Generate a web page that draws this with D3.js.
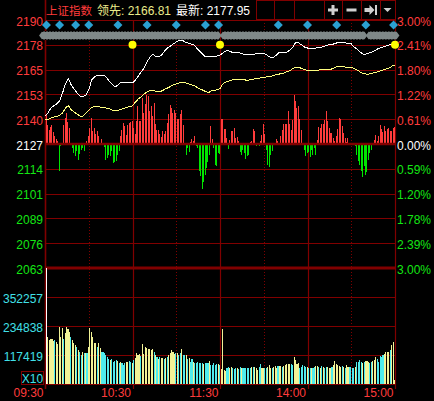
<!DOCTYPE html>
<html><head><meta charset="utf-8">
<script src="https://cdn.jsdelivr.net/npm/d3@7"></script>
<style>html,body{margin:0;padding:0;background:#000;overflow:hidden}svg{display:block}</style>
</head><body><svg id="c" width="434" height="401"></svg>
<script>
// ---------------- data ----------------
const indexName = "上证指数";
const leadLabel = "领先", leadValue = "2166.81";
const lastLabel = "最新", lastValue = "2177.95";
const buttonLabels = ["加","区","信息","+","−","⇥","▾"];
const prevClose = 2126.8;
const priceLabels = ["2190","2178","2165","2153","2140","2127","2114","2101","2089","2076","2063"];
const pctLabels = ["3.00%","2.41%","1.80%","1.22%","0.61%","0.00%","0.59%","1.20%","1.78%","2.39%","3.00%"];
const volTickValues = [352.257, 234.838, 117.419];           // thousands
const volLabels = ["352257","234838","117419"];
const volUnitLabel = "X10";
const timeTicks = [0, 60, 120, 180, 240];                   // minutes from 09:30
const timeLabels = ["09:30","10:30","11:30","14:00","15:00"];
const halfHourTicks = [30, 90, 150, 210];
const infoMarks = [1,10,21,30,50,70,90,110,119,160,180,200,220,239];
const eventDots = [60,120,240];
const bandSegments = [[-2,119],[122,219],[222,241]];

// index (white) every 2 minutes
const indexLine = [
2141.2,2142.8,2145.3,2146.4,2147.4,2148.9,2153.0,2157.7,2160.3,2157.2,
2155.1,2153.0,2151.5,2151.0,2152.0,2154.6,2159.7,2161.3,2162.3,2162.3,
2162.3,2161.3,2159.2,2157.7,2156.1,2157.2,2158.7,2158.7,2158.2,2158.2,
2158.2,2159.7,2161.8,2163.9,2165.9,2169.0,2171.6,2173.1,2171.6,2171.6,
2172.6,2174.7,2176.2,2177.2,2178.3,2179.3,2180.3,2180.3,2179.3,2178.8,
2178.3,2177.8,2176.2,2174.7,2173.1,2171.6,2171.6,2171.6,2171.6,2172.1,
2172.6,2173.6,2174.7,2174.7,2174.1,2174.1,2174.1,2173.6,2173.1,2172.6,
2172.6,2172.6,2173.1,2173.6,2173.6,2173.6,2172.6,2171.6,2171.1,2172.1,
2173.6,2174.1,2173.6,2174.1,2175.2,2176.7,2179.3,2178.8,2177.8,2176.7,
2176.2,2175.7,2175.7,2176.2,2176.7,2176.7,2177.2,2177.8,2177.8,2178.3,
2178.8,2178.8,2178.8,2178.8,2178.3,2178.3,2176.7,2175.7,2174.1,2173.1,
2173.1,2173.6,2174.1,2174.7,2175.7,2176.2,2176.7,2177.2,2177.8,2177.8,
2177.95];

// lead (yellow) every 2 minutes
const leadLine = [
2139.2,2139.4,2140.2,2140.7,2141.0,2141.5,2142.8,2145.3,2146.6,2144.3,
2143.3,2142.2,2141.2,2141.2,2142.5,2144.3,2145.6,2146.1,2146.1,2145.8,
2145.8,2145.3,2145.1,2144.3,2144.0,2144.0,2144.6,2145.1,2145.6,2146.1,
2146.4,2148.4,2150.0,2151.2,2152.5,2153.6,2154.3,2154.6,2153.8,2153.6,
2154.1,2154.9,2155.6,2156.4,2157.2,2157.7,2158.2,2158.7,2158.4,2157.9,
2157.4,2156.9,2156.1,2155.1,2154.6,2153.8,2153.2,2154.1,2154.4,2154.7,
2155.4,2157.7,2158.7,2159.2,2159.7,2159.9,2160.0,2160.0,2159.8,2159.7,
2159.7,2160.0,2160.3,2160.5,2160.8,2161.0,2161.3,2161.5,2161.8,2162.3,
2162.6,2163.1,2163.3,2164.1,2164.6,2165.7,2166.4,2166.2,2165.7,2165.1,
2164.5,2164.5,2164.5,2164.6,2164.9,2165.1,2165.2,2165.2,2165.2,2165.9,
2166.6,2166.6,2166.6,2166.4,2166.4,2166.2,2165.7,2164.9,2163.9,2163.2,
2162.8,2162.8,2163.2,2163.6,2163.9,2164.4,2164.9,2165.4,2165.9,2166.9,
2167.5];

// buy/sell strength bars, one per minute
const powerBars = [
29,19,14,17,19,12,8,5,3,-27,
-2,1,19,26,31,22,16,-1,-4,-9,
-12,-7,-16,-10,-6,-4,-7,-1,3,8,
16,26,13,16,10,13,8,0,5,1,
-3,-16,-14,-11,-12,-7,-19,-18,-17,-11,
-7,8,14,21,18,9,19,21,22,23,
16,10,23,38,23,23,46,31,40,49,
48,33,38,28,41,20,14,14,10,7,
13,10,13,21,30,39,36,31,34,31,
25,25,30,34,19,0,-11,-4,-8,2,
5,3,8,-2,-4,-27,-32,-45,-38,-31,
-24,-18,-11,18,5,-4,-21,-22,-9,-10,
25,25,15,15,6,-5,4,13,13,16,
6,7,3,-8,-11,-6,-9,-15,-12,-11,
2,3,15,13,-2,-1,-2,3,9,20,
10,-6,-21,-23,-11,-7,0,1,5,3,
0,8,14,20,20,20,33,20,14,24,
49,43,36,38,25,14,0,-6,-12,-9,
-8,-13,-6,-11,-4,-11,4,17,16,20,
20,24,33,23,16,11,11,6,3,8,
15,26,25,18,11,6,2,6,0,0,
-1,-1,-2,-11,-17,-21,-27,-33,-22,-31,
-28,-16,-9,-6,-1,4,9,3,8,19,
15,12,18,13,15,16,13,13,16,17];

// volume per minute (thousands)
const volume = [
468,192,178,181,181,176,178,170,162,230,
192,225,181,205,230,222,212,192,178,165,
158,151,138,128,117,131,124,127,124,151,
228,210,192,165,167,151,165,144,131,128,
124,117,111,100,97,100,90,93,97,95,
84,90,86,77,84,88,90,95,90,86,
97,104,124,118,122,113,162,122,151,144,
140,142,138,140,131,117,111,100,111,106,
104,100,104,111,117,127,138,130,122,124,
124,117,124,140,117,117,117,100,104,90,
100,90,84,86,90,86,84,84,80,84,
84,86,95,77,77,84,77,80,82,78,
59,223,57,54,63,70,63,70,66,61,
63,63,61,70,66,63,64,66,66,63,
66,70,70,68,63,57,70,81,66,63,
63,66,70,77,63,66,70,73,66,73,
72,74,70,74,77,80,81,81,79,77,
111,97,81,84,66,70,77,72,68,70,
63,66,63,66,70,72,74,70,66,73,
70,66,70,68,66,63,70,77,93,80,
77,73,70,73,70,66,77,70,70,68,
66,63,70,90,90,97,90,86,90,92,
93,90,86,90,93,97,111,100,90,113,
111,117,122,131,131,131,138,158,171,16];

// volume bar direction: W first, Y up, C down
const volumeDir = (
"WYYYYYCYYY"+"YYCYYYYCYY"+"YCYCCYCYCY"+"YYYYYCYYCC"+"CCCCYCCCCY"+"CYCCCYYCCY"+
"CYYYYCYYYY"+"YYYYCYCYCY"+"YCYCYYYYYC"+"YCCYCCYCYC"+"CYCCCCCCYC"+"CCYCCCCCYC"+
"YYYYCCYYCC"+"CYCCYCCCCC"+"CYCYYYCCYY"+"CCYYYCYYYC"+"YYCYYYYYCC"+"YYYYCCCCCY"+
"CCYCCYYCYC"+"YCCYYYCYYY"+"YYYCYCYYCC"+"CCYCCCCYCY"+"YYCCYYYCCC"+"CCYYYYCYYY").split("");

// ---------------- drawing ----------------
const svg = d3.select("#c");
const L = 45, R = 395, T = 20, MID = 268, B = 384;
const GRID = "#800000", RED = "#ff3c3c", GREEN = "#14e614", CYAN = "#40e0e8";
const NUMFONT = "'Liberation Sans', Arial, 'Noto Sans CJK SC', sans-serif";

svg.append("rect").attr("width", 434).attr("height", 401).attr("fill", "#000");

const x = d3.scaleLinear().domain([0, 240]).range([L, R]);
const yP = d3.scaleLinear().domain([prevClose * 0.97, prevClose * 1.03]).range([MID, T]);
const yB = d3.scaleLinear().domain([-124, 124]).range([MID, T]);
const yV = d3.scaleLinear().domain([0, 469.676]).range([B, MID]);
const levels = d3.range(5, -6, -1).map(j => prevClose * (1 + 0.006 * j));
const crisp = v => Math.round(v) + 0.5;

const grid = svg.append("g").attr("stroke", GRID).attr("fill", "none");
levels.forEach((p, k) => {
  if (k === 5 || k === 10) return;
  grid.append("line").attr("x1", L).attr("x2", R).attr("y1", crisp(yP(p))).attr("y2", crisp(yP(p)));
});
volTickValues.forEach(v => grid.append("line").attr("x1", L).attr("x2", R)
  .attr("y1", crisp(yV(v))).attr("y2", crisp(yV(v))));
grid.append("line").attr("x1", L).attr("x2", R).attr("y1", crisp(B)).attr("y2", crisp(B));
halfHourTicks.forEach(t => grid.append("line").attr("x1", crisp(x(t))).attr("x2", crisp(x(t)))
  .attr("y1", T).attr("y2", B).attr("stroke-dasharray", "1,2"));
timeTicks.forEach(t => {
  const xx = crisp(x(t));
  grid.append("line").attr("x1", xx).attr("x2", xx)
    .attr("y1", t === 0 ? 0 : T).attr("y2", B + 5)
    .attr("stroke-width", t === 0 ? 1.6 : 1.2);
});
grid.append("line").attr("x1", L).attr("x2", R).attr("y1", yP(levels[10])).attr("y2", yP(levels[10]))
  .attr("stroke-width", 3);

// power bars
svg.append("g").attr("shape-rendering", "crispEdges").selectAll("rect").data(powerBars).join("rect")
  .attr("x", (d, i) => x(i) + 0.6)
  .attr("width", 1)
  .attr("y", d => d >= 0 ? yB(d) : yB(0))
  .attr("height", d => Math.abs(yB(d) - yB(0)))
  .attr("fill", d => d >= 0 ? RED : "#00e600");

svg.append("line").attr("x1", L).attr("x2", R).attr("y1", yP(prevClose)).attr("y2", yP(prevClose))
  .attr("stroke", GRID).attr("stroke-width", 2.4);

// volume bars
const volColor = { W: "#ffffff", Y: "#f2f296", C: "#50ecec" };
svg.append("g").attr("shape-rendering", "crispEdges").selectAll("rect").data(volume).join("rect")
  .attr("x", (d, i) => x(i) + 0.6)
  .attr("width", 1.1)
  .attr("y", d => yV(d))
  .attr("height", d => B - yV(d))
  .attr("fill", (d, i) => volColor[volumeDir[i]]);

// price lines
const line = d3.line().x((d, k) => x(k * 2)).y(d => yP(d));
svg.append("path").datum(leadLine).attr("d", line).attr("fill", "none")
  .attr("stroke", "#ffff80").attr("stroke-width", 1).attr("shape-rendering", "crispEdges");
svg.append("path").datum(indexLine).attr("d", line).attr("fill", "none")
  .attr("stroke", "#ffffff").attr("stroke-width", 1).attr("shape-rendering", "crispEdges");

svg.append("g").selectAll("circle").data(eventDots).join("circle")
  .attr("cx", d => x(d)).attr("cy", yP(levels[1])).attr("r", 4).attr("fill", "#ffff00");

// timeline band
const band = svg.append("g");
bandSegments.forEach(([a, b]) => {
  const x0 = Math.max(x(a), 42), x1 = Math.min(x(b), 398);
  band.append("polygon").attr("points",
    `${x0-3},35.5 ${x0},31.5 ${x1},31.5 ${x1+3},35.5 ${x1},39.5 ${x0},39.5`).attr("fill", "#7f8888");
  band.append("line").attr("x1", x0).attr("x2", x1).attr("y1", 31.5).attr("y2", 31.5)
    .attr("stroke", "#000").attr("stroke-dasharray", "1,2");
  band.append("line").attr("x1", x0).attr("x2", x1).attr("y1", 39.5).attr("y2", 39.5)
    .attr("stroke", "#000").attr("stroke-dasharray", "1,2");
});

svg.append("g").selectAll("path").data(infoMarks).join("path")
  .attr("d", d => { const cx = x(d), cy = 25; return `M${cx},${cy-4.5}L${cx+4.5},${cy}L${cx},${cy+4.5}L${cx-4.5},${cy}Z`; })
  .attr("fill", "#2aa0d2");

// axis labels
const lab = svg.append("g").attr("font-family", NUMFONT).attr("font-size", 12);
priceLabels.forEach((t, k) => {
  const col = k < 5 ? RED : (k === 5 ? "#ffffff" : GREEN);
  lab.append("text").attr("x", 43).attr("y", yP(levels[k]) + 5.5).attr("text-anchor", "end").attr("fill", col).text(t);
  lab.append("text").attr("x", 397).attr("y", yP(levels[k]) + 5.5).attr("fill", col).text(pctLabels[k]);
});
volTickValues.forEach((v, k) => lab.append("text").attr("x", 43).attr("y", yV(v) + 5.5)
  .attr("text-anchor", "end").attr("fill", CYAN).text(volLabels[k]));
svg.append("rect").attr("x", 21.5).attr("y", 371.5).attr("width", 22).attr("height", 13)
  .attr("fill", "none").attr("stroke", GRID);
lab.append("text").attr("x", 32.5).attr("y", 382.5).attr("text-anchor", "middle").attr("fill", CYAN).text(volUnitLabel);

timeTicks.forEach((t, k) => lab.append("text").attr("x", x(t) - 1.5).attr("y", 397)
  .attr("text-anchor", "end").attr("fill", RED).text(timeLabels[k]));

// header
const hdr = svg.append("g").attr("font-family", NUMFONT).attr("font-size", 12);
hdr.append("text").attr("x", 46).attr("y", 15).attr("fill", RED).attr("font-size", 11.5).text(indexName);
hdr.append("text").attr("x", 97).attr("y", 15).attr("fill", "#ecec8c").text(leadLabel + ": " + leadValue);
hdr.append("text").attr("x", 176).attr("y", 15).attr("fill", "#ffffff").text(lastLabel + ": " + lastValue);

const btnEdges = [256, 274, 294, 324, 342, 361, 380, 395];
buttonLabels.forEach((b, k) => {
  const x0 = btnEdges[k], x1 = btnEdges[k + 1], cx = (x0 + x1) / 2;
  svg.append("rect").attr("x", x0 + 0.5).attr("y", 0.5).attr("width", x1 - x0).attr("height", 19)
    .attr("fill", "#000").attr("stroke", GRID);
  if (b === "+" || b === "−") {
    const g = svg.append("g").attr("fill", "#d0d0d0");
    g.append("rect").attr("x", cx - 5).attr("y", 8.5).attr("width", 10).attr("height", 3);
    if (b === "+") g.append("rect").attr("x", cx - 1.5).attr("y", 5).attr("width", 3).attr("height", 10);
  } else if (b === "⇥") {
    svg.append("path").attr("d", `M${cx-6},8 L${cx-1},8 L${cx-1},5 L${cx+4},10 L${cx-1},15 L${cx-1},12 L${cx-6},12 Z`).attr("fill", "#d0d0d0");
    svg.append("rect").attr("x", cx + 4.5).attr("y", 5).attr("width", 2).attr("height", 10).attr("fill", "#d0d0d0");
  } else if (b === "▾") {
    svg.append("path").attr("d", `M${cx-4},8 L${cx+4},8 L${cx},12 Z`).attr("fill", "#d0d0d0");
  } else {
    hdr.append("text").attr("x", cx).attr("y", 15).attr("text-anchor", "middle").attr("fill", "#cfcfcf")
      .attr("font-size", 13).text(b);
  }
});
</script>
</body></html>
